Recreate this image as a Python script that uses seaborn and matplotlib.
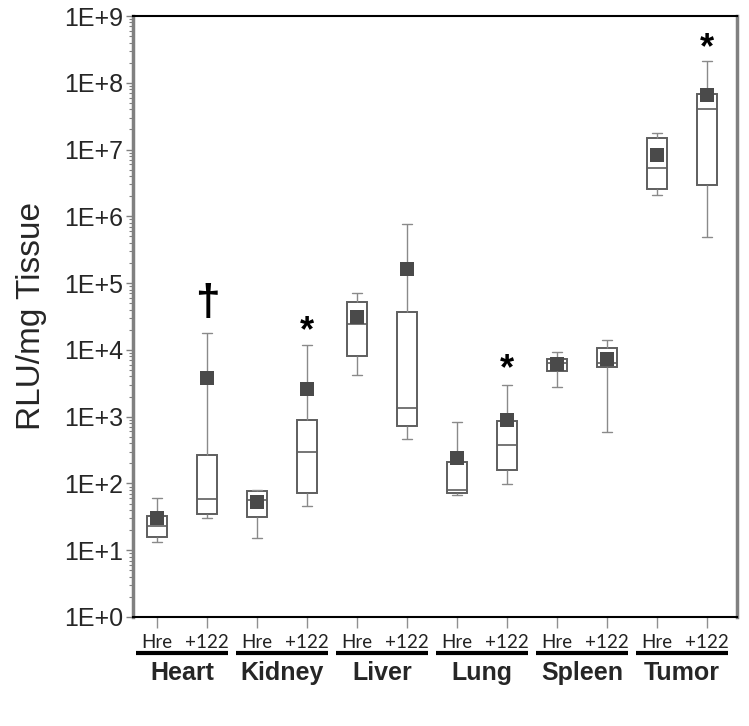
import numpy as np
import pandas as pd
import seaborn as sns
import matplotlib
matplotlib.use("Agg")
from matplotlib import pyplot as plt

tissues = ["Heart", "Kidney", "Liver", "Lung", "Spleen", "Tumor"]
treatments = ["Hre", "+122"]

# five-number summaries: whisker low, Q1, median, Q3, whisker high
box_low = [13.2, 30, 15.1, 45.7, 4220, 468, 67.6, 98, 2750, 589, 2.07e6, 4.95e5]
box_q1 = [16, 34.7, 31.3, 72.4, 8030, 716, 71.6, 158, 4900, 5560, 2.6e6, 2.92e6]
box_med = [23.4, 59, 57, 295, 24600, 1350, 78.5, 376, 6300, 6300, 5.25e6, 4.03e7]
box_q3 = [33, 266, 77.6, 892, 52500, 37200, 209, 870, 7330, 10700, 1.48e7, 6.76e7]
box_high = [60, 18000, 79, 12000, 71600, 776000, 831, 2990, 9330, 14100, 1.8e7, 2.09e8]

# group means (filled squares)
means = [30, 3800, 52, 2600, 31000, 162000, 237, 880, 6200, 7300, 8.3e6, 6.6e7]

# significance marks
marks = {"Heart +122": ("\u2020", 5.0e4), "Kidney +122": ("*", 1.9e4),
         "Lung +122": ("*", 5.1e3), "Tumor +122": ("*", 3.2e8)}

order = [f"{t} {g}" for t in tissues for g in treatments]

rows = []
for i, name in enumerate(order):
    for v in (box_low[i], box_q1[i], box_med[i], box_q3[i], box_high[i]):
        rows.append({"group": name, "rlu": v})
df = pd.DataFrame(rows)
df_mean = pd.DataFrame({"group": order, "rlu": means})

sns.set_style("white")
plt.rcParams["font.family"] = ["Liberation Sans", "DejaVu Sans"]

fig = plt.figure(figsize=(7.49, 7.26), dpi=100)
ax = fig.add_axes([133 / 749, 109 / 726, 604 / 749, 601 / 726])
ax.set_yscale("log")

edge = "#5e5e5e"
sns.boxplot(data=df, x="group", y="rlu", order=order, whis=(0, 100), width=0.4,
            color="white", linecolor=edge, linewidth=1.4, fliersize=0,
            boxprops=dict(facecolor="white", edgecolor=edge),
            whiskerprops=dict(color="#8a8a8a", linewidth=1.0),
            capprops=dict(color="#8a8a8a", linewidth=1.0),
            medianprops=dict(color=edge, linewidth=1.2), ax=ax)
sns.stripplot(data=df_mean, x="group", y="rlu", order=order, jitter=False,
              marker="s", size=9.5, color="#4a4a4a", linewidth=0, zorder=5, ax=ax)

for name, (sym, yv) in marks.items():
    ax.text(order.index(name), yv, sym, ha="center", va="center",
            fontsize=26 if sym == "*" else 32, fontweight="bold", color="black")

ax.set_ylim(1, 1e9)
ax.set_xlim(-0.48, 11.6)
ax.set_yticks([10.0 ** k for k in range(10)])
ax.set_yticklabels([f"1E+{k}" for k in range(10)], fontsize=18)
ax.yaxis.set_minor_locator(matplotlib.ticker.LogLocator(base=10, subs=np.arange(2, 10), numticks=20))
ax.yaxis.set_minor_formatter(matplotlib.ticker.NullFormatter())
ax.tick_params(axis="y", which="major", direction="out", length=5, width=1, color="#808080", left=True, pad=2)
ax.tick_params(axis="y", which="minor", direction="out", length=3, width=0.8, color="#808080", left=True)

ax.set_xticks(range(len(order)))
ax.set_xticklabels([g for t in tissues for g in treatments], fontsize=13.5,
                   family=["Lato", "DejaVu Sans"], color="#222222")
ax.tick_params(axis="x", direction="out", length=8, width=1, color="#909090", bottom=True, pad=4)

ax.set_xlabel("")
ax.set_ylabel("RLU/mg Tissue", fontsize=24)
ax.yaxis.set_label_coords(-0.142, 0.5)

for side, col, lw in (("left", "#808080", 2.5), ("right", "#808080", 2.5),
                      ("top", "black", 1.5), ("bottom", "black", 1.5)):
    ax.spines[side].set_visible(True)
    ax.spines[side].set_color(col)
    ax.spines[side].set_linewidth(lw)

# tissue group brackets below the tick labels
trans = ax.get_xaxis_transform()
for j, t in enumerate(tissues):
    c = 2 * j + 0.5
    ax.plot([c - 0.92, c + 0.92], [-0.06, -0.06], color="black", lw=3,
            transform=trans, clip_on=False, solid_capstyle="butt")
    ax.text(c, -0.094, t, transform=trans, ha="center", va="center",
            fontsize=18, fontweight="bold")

fig.savefig("out.png", dpi=100)
